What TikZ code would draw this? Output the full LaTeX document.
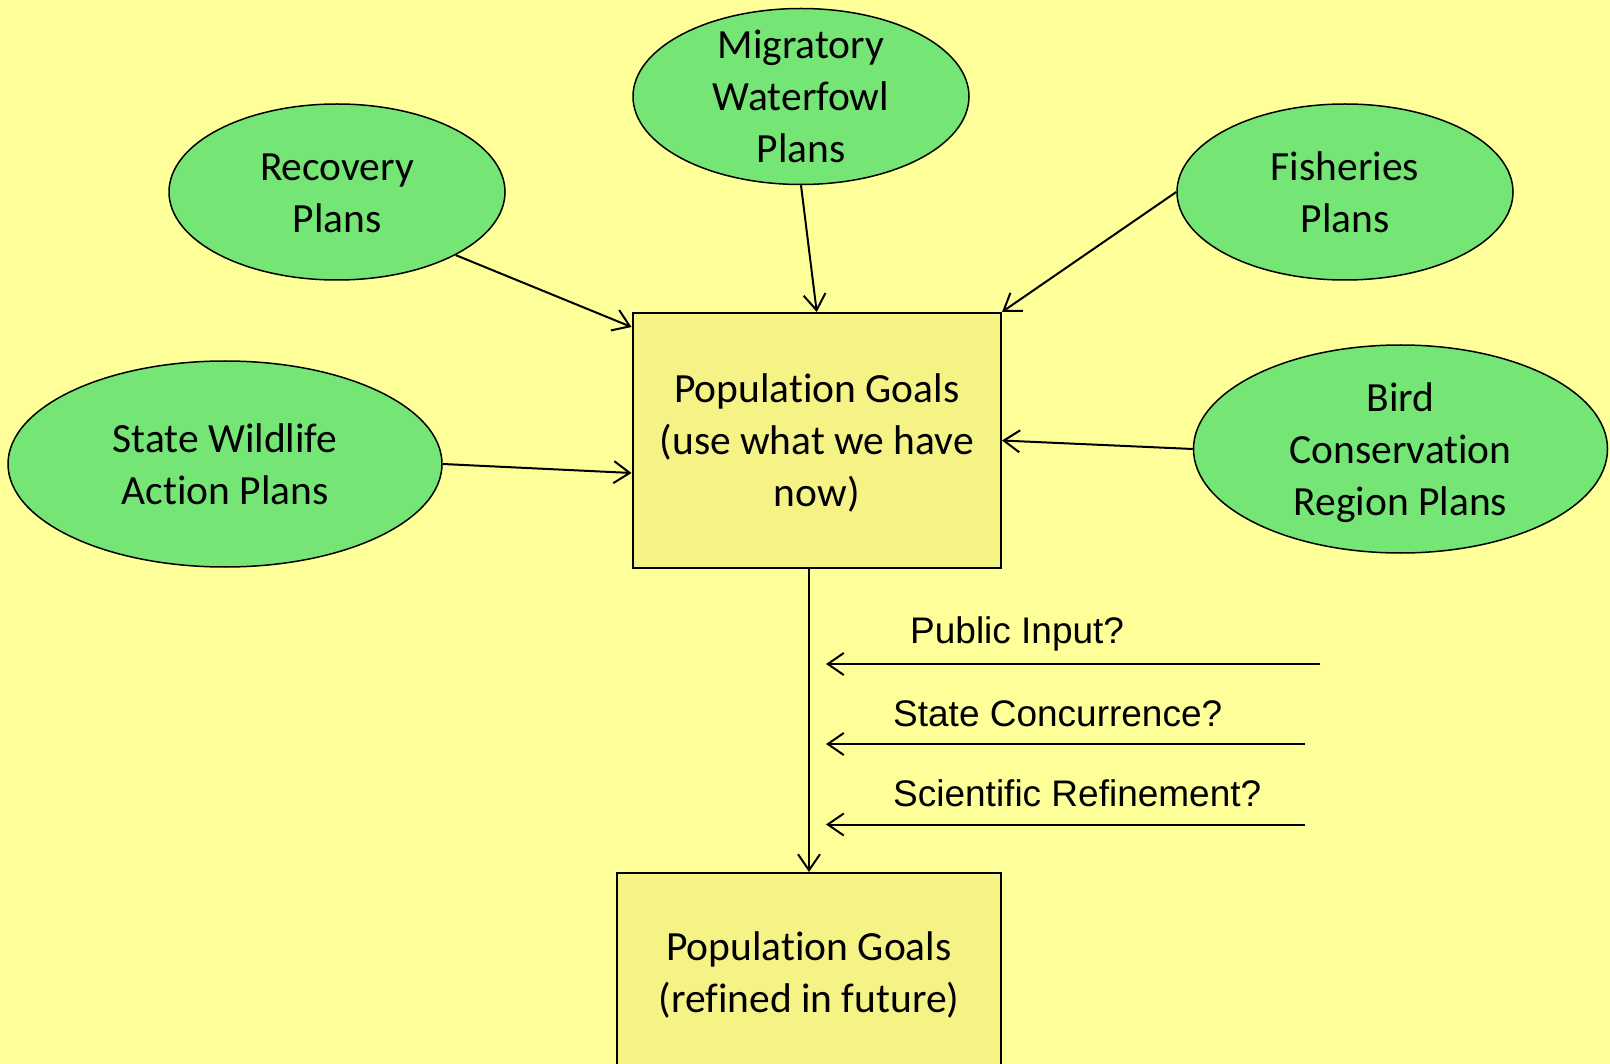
\documentclass[tikz,border=0pt]{standalone}
\usepackage{fontspec}
\setmainfont{Carlito}[Ligatures=CommonOff]
\newfontfamily\arialfont{Liberation Sans}
\usetikzlibrary{shapes,arrows.meta,positioning}
\definecolor{bgyellow}{RGB}{255,255,153}
\definecolor{plangreen}{RGB}{117,230,118}
\definecolor{goalyellow}{RGB}{245,242,134}
% full line box of the slide font, put on first and last line
\newcommand{\slstrut}{\rule[-.269em]{0pt}{1.221em}}

\begin{document}
\begin{tikzpicture}[x=1pt,y=-1pt,
    every node/.style={font=\fontsize{41.5}{52}\selectfont},
    planoval/.style={ellipse,draw,line width=1.5pt,fill=plangreen,inner sep=-30pt,align=center},
    goalbox/.style={rectangle,draw,line width=2pt,fill=goalyellow,inner sep=-30pt,align=center},
    feed/.style={font=\arialfont\fontsize{37}{44}\selectfont,inner sep=0pt,anchor=west},
    link/.style={line width=2pt,-{Straight Barb[length=16pt,width=22pt]}}]
        \fill[bgyellow] (0,0) rectangle (1610,1064);
        \useasboundingbox (0,0) rectangle (1610,1064);
        \clip (0,0) rectangle (1610,1064);

        % plans feeding the goals
        \node[planoval,minimum width=336pt,minimum height=176pt] (mig) at (801,96.5) {\slstrut Migratory\\Waterfowl\\Plans\slstrut};
        \node[planoval,minimum width=336pt,minimum height=176pt] (rec) at (337,192) {\slstrut Recovery\\Plans\slstrut};
        \node[planoval,minimum width=336pt,minimum height=176pt] (fish) at (1345,192) {\slstrut Fisheries\\Plans\slstrut};
        \node[planoval,minimum width=434pt,minimum height=206pt] (swap) at (225,464) {\slstrut State Wildlife\\Action Plans\slstrut};
        \node[planoval,minimum width=414pt,minimum height=208pt] (bcr) at (1400.5,449) {\slstrut Bird\\Conservation\\Region Plans\slstrut};

        % goals now and later
        \node[goalbox,minimum width=368.5pt,minimum height=255pt] (now) at (816.75,440.5) {\slstrut Population Goals\\(use what we have\\now)\slstrut};
        \node[goalbox,minimum width=384pt,minimum height=198pt] (fut) at (809,972) {\slstrut Population Goals\\(refined in future)\slstrut};

        \draw[link] (rec.-28) -- ([yshift=-15pt]now.north west);
        \draw[link] (mig.south) -- (now.north);
        \draw[link] (fish.west) -- (now.north east);
        \draw[link] (swap.east) -- ([yshift=-32.5pt]now.west);
        \draw[link] (bcr.west) -- (now.east);
        \draw[link] (now.south -| fut.north) -- (fut.north);

        % open questions
        \coordinate (pubR) at (1320,664);   \coordinate (pubL) at (826,664);
        \coordinate (staR) at (1305,744);   \coordinate (staL) at (826,744);
        \coordinate (sciR) at (1305,824.5); \coordinate (sciL) at (826,824.5);
        \draw[link] (pubR) -- (pubL);
        \draw[link] (staR) -- (staL);
        \draw[link] (sciR) -- (sciL);
        \node[feed] (pub) at (910,633.5) {Public Input?};
        \node[feed] (sta) at (893,713.6) {State Concurrence?};
        \node[feed] (sci) at (893,793.7) {Scientific Refinement?};
\end{tikzpicture}
\end{document}
